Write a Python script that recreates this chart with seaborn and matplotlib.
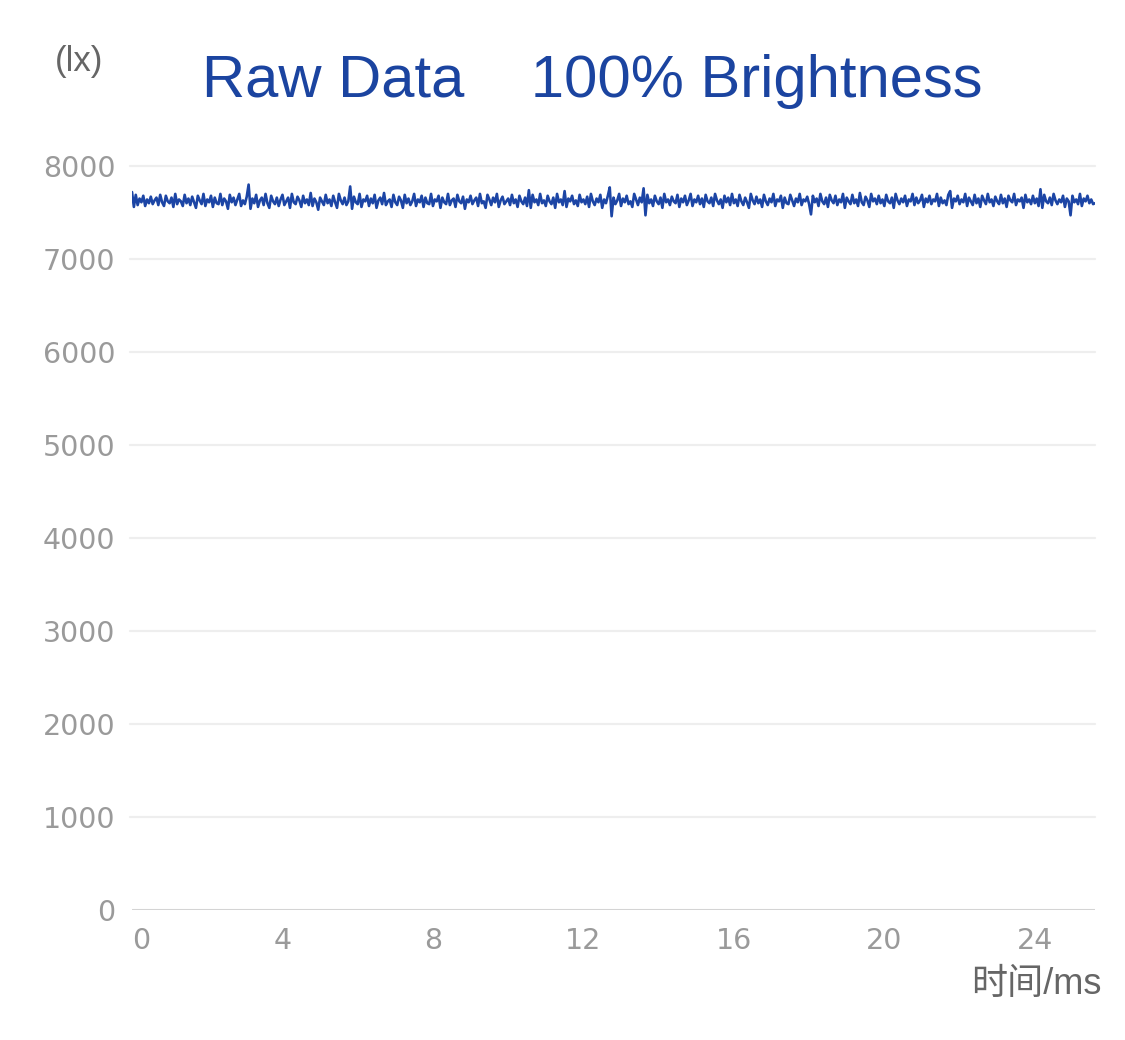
import numpy as np
import matplotlib
matplotlib.use("Agg")
import matplotlib.pyplot as plt
import seaborn as sns

# sample spacing of the raw readings (ms)
sample_interval_ms = 0.05

# illuminance readings (lx)
lux = [
    7720, 7560, 7690, 7580, 7650, 7610, 7680, 7570, 7640, 7600, 7670, 7590, 7630, 7660, 7580, 7690, 7610, 7570, 7680, 7620,
    7600, 7660, 7560, 7700, 7590, 7640, 7620, 7570, 7690, 7600, 7650, 7580, 7670, 7610, 7550, 7680, 7630, 7590, 7700, 7570,
    7640, 7610, 7680, 7560, 7660, 7600, 7590, 7700, 7580, 7650, 7620, 7540, 7690, 7610, 7660, 7580, 7640, 7700, 7570, 7630,
    7590, 7670, 7800, 7540, 7650, 7600, 7690, 7560, 7630, 7660, 7580, 7700, 7600, 7550, 7680, 7620, 7590, 7660, 7570, 7640,
    7690, 7580, 7620, 7660, 7550, 7700, 7610, 7590, 7670, 7630, 7560, 7680, 7600, 7640, 7580, 7710, 7570, 7650, 7610, 7530,
    7660, 7620, 7580, 7690, 7600, 7640, 7570, 7680, 7610, 7550, 7700, 7630, 7590, 7660, 7580, 7620, 7780, 7540, 7670, 7610,
    7590, 7700, 7560, 7640, 7620, 7680, 7570, 7650, 7600, 7690, 7550, 7630, 7660, 7590, 7710, 7580, 7620, 7640, 7560, 7690,
    7610, 7580, 7670, 7630, 7550, 7690, 7600, 7650, 7580, 7620, 7700, 7570, 7640, 7610, 7680, 7560, 7660, 7600, 7590, 7700,
    7570, 7640, 7620, 7680, 7550, 7660, 7610, 7590, 7700, 7580, 7630, 7650, 7560, 7690, 7620, 7600, 7670, 7540, 7640, 7610,
    7680, 7590, 7630, 7660, 7570, 7700, 7600, 7620, 7550, 7690, 7640, 7580, 7660, 7610, 7700, 7560, 7630, 7670, 7590, 7620,
    7650, 7580, 7690, 7600, 7640, 7560, 7680, 7620, 7590, 7660, 7570, 7740, 7550, 7690, 7610, 7640, 7580, 7700, 7600, 7630,
    7570, 7680, 7620, 7590, 7660, 7550, 7700, 7610, 7640, 7580, 7730, 7560, 7650, 7620, 7680, 7590, 7630, 7570, 7690, 7610,
    7640, 7590, 7670, 7560, 7700, 7620, 7580, 7650, 7610, 7690, 7550, 7640, 7600, 7680, 7770, 7460, 7660, 7590, 7630, 7700,
    7570, 7650, 7610, 7680, 7590, 7620, 7560, 7700, 7640, 7580, 7660, 7610, 7760, 7470, 7690, 7600, 7640, 7570, 7680, 7620,
    7590, 7660, 7550, 7700, 7610, 7640, 7580, 7670, 7620, 7600, 7690, 7560, 7650, 7610, 7680, 7580, 7630, 7700, 7570, 7640,
    7610, 7680, 7590, 7650, 7560, 7690, 7620, 7600, 7660, 7570, 7700, 7630, 7590, 7640, 7550, 7680, 7610, 7660, 7580, 7700,
    7600, 7640, 7570, 7690, 7620, 7580, 7660, 7610, 7550, 7700, 7630, 7590, 7670, 7600, 7640, 7560, 7690, 7620, 7580, 7650,
    7610, 7700, 7570, 7640, 7620, 7680, 7550, 7660, 7600, 7590, 7690, 7630, 7570, 7650, 7610, 7700, 7580, 7640, 7620, 7670,
    7590, 7480, 7680, 7610, 7650, 7570, 7700, 7620, 7590, 7660, 7560, 7690, 7630, 7600, 7680, 7580, 7640, 7610, 7700, 7550,
    7660, 7620, 7590, 7690, 7600, 7640, 7570, 7710, 7610, 7580, 7670, 7630, 7560, 7700, 7620, 7650, 7590, 7680, 7600, 7640,
    7570, 7690, 7620, 7600, 7660, 7550, 7700, 7630, 7590, 7650, 7610, 7680, 7570, 7640, 7620, 7700, 7580, 7660, 7600, 7630,
    7690, 7560, 7650, 7610, 7680, 7590, 7640, 7620, 7700, 7570, 7660, 7600, 7630, 7580, 7690, 7730, 7550, 7650, 7620, 7680,
    7590, 7640, 7610, 7700, 7570, 7660, 7620, 7580, 7690, 7600, 7650, 7560, 7680, 7630, 7590, 7700, 7610, 7640, 7570, 7670,
    7620, 7590, 7690, 7600, 7650, 7560, 7680, 7630, 7610, 7700, 7580, 7640, 7620, 7660, 7550, 7690, 7610, 7640, 7590, 7680,
    7600, 7650, 7570, 7750, 7550, 7690, 7620, 7600, 7660, 7580, 7700, 7630, 7590, 7640, 7610, 7680, 7560, 7650, 7620, 7470,
    7680, 7610, 7640, 7590, 7700, 7570, 7650, 7620, 7680, 7600, 7640, 7590, 7600,
]
time_ms = np.arange(len(lux)) * sample_interval_ms

x_ticks = [0, 4, 8, 12, 16, 20, 24]
y_ticks = [0, 1000, 2000, 3000, 4000, 5000, 6000, 7000, 8000]

sns.set_style("white")
plt.rcParams['font.family'] = ['Liberation Sans', 'Noto Sans CJK SC', 'DejaVu Sans']

fig = plt.figure(figsize=(11.25, 10.4), dpi=100)
ax = fig.add_axes([132 / 1125, 130 / 1040, (1095 - 132) / 1125, (910 - 166) / 1040])

# grid lines
for v in y_ticks[1:]:
    ax.axhline(v, color='#eeeeee', lw=1.6, zorder=0, xmin=-0.002, clip_on=False)
ax.axhline(0, color='#d4d4d4', lw=2.2, zorder=0)

sns.lineplot(x=time_ms, y=lux, ax=ax, color='#1c45a5', lw=1.9, zorder=3)

ax.set_xlim(0, 25.6)
ax.set_ylim(0, 8000)
ax.set_xticks(x_ticks)
ax.set_yticks(y_ticks)
ax.set_xticklabels([str(t) for t in x_ticks], family='DejaVu Sans')
ax.set_yticklabels([str(t) for t in y_ticks], family='DejaVu Sans')
ax.tick_params(axis='both', length=0, labelsize=20.5, labelcolor='#9a9a9a')
ax.tick_params(axis='y', pad=12)
ax.tick_params(axis='x', pad=12)
ax.get_xticklabels()[0].set_horizontalalignment('left')
for s in ax.spines.values():
    s.set_visible(False)
ax.set_xlabel('')
ax.set_ylabel('')

fig.text(592 / 1125, 1 - 97 / 1040, 'Raw Data    100% Brightness', color='#1b44a0',
         fontsize=43, ha='center', va='baseline')
fig.text(79 / 1125, 1 - 62 / 1040, '(lx)', color='#666666', fontsize=25,
         ha='center', va='center')
fig.text(1101 / 1125, 1 - 994 / 1040, '时间/ms', color='#666666', fontsize=26,
         ha='right', va='baseline')

fig.savefig('out.png', dpi=100)
